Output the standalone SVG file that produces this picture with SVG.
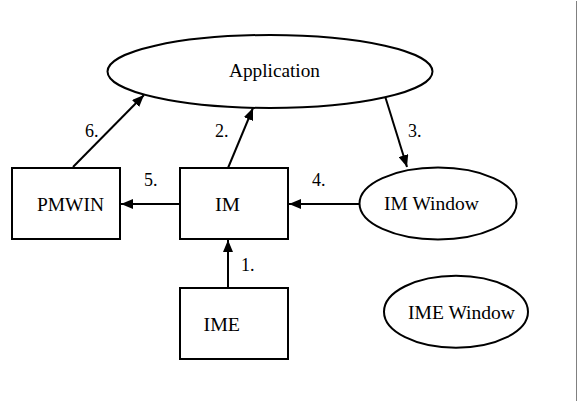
<svg xmlns="http://www.w3.org/2000/svg" width="577" height="401" viewBox="0 0 577 401">
<style>
.shape{fill:#fff;stroke:#000;stroke-width:2}
.lbl{font-family:'Liberation Serif','DejaVu Serif',Times,serif;font-size:18px;fill:#000}
.edge{stroke:#000;stroke-width:2;fill:none;marker-end:url(#ah)}
</style>
<defs>
<marker id="ah" markerUnits="userSpaceOnUse" markerWidth="12" markerHeight="10" viewBox="0 0 12 10" refX="12" refY="5" orient="auto">
<path d="M0,0 L12,5 L0,10 Z" fill="#000"/>
</marker>
</defs>
<rect width="577" height="401" fill="#fff"/>
<line x1="576.5" y1="1" x2="576.5" y2="401" stroke="#808080" stroke-width="1"/>
<g id="connectors">
<line class="edge" x1="228" y1="288" x2="228" y2="240"/>
<line class="edge" x1="228" y1="168" x2="253" y2="108"/>
<line class="edge" x1="385" y1="96" x2="407" y2="167"/>
<line class="edge" x1="359" y1="204" x2="289" y2="204"/>
<line class="edge" x1="180" y1="204" x2="121" y2="204"/>
<line class="edge" x1="73" y1="167" x2="144" y2="95"/>
<text class="lbl" x="241" y="271" font-family="Liberation Serif, serif">1.</text>
<text class="lbl" x="215" y="137" font-family="Liberation Serif, serif">2.</text>
<text class="lbl" x="408" y="137" font-family="Liberation Serif, serif">3.</text>
<text class="lbl" x="312" y="186" font-family="Liberation Serif, serif">4.</text>
<text class="lbl" x="144" y="186" font-family="Liberation Serif, serif">5.</text>
<text class="lbl" x="85" y="137" font-family="Liberation Serif, serif">6.</text>
</g>
<g id="application">
<ellipse class="shape" cx="270" cy="71.5" rx="162.5" ry="36.5"/>
<text class="lbl" x="229" y="77" textLength="91" lengthAdjust="spacingAndGlyphs">Application</text>
</g>
<g id="pmwin">
<rect class="shape" x="12" y="168" width="108" height="71"/>
<text class="lbl" x="37" y="211" textLength="67" lengthAdjust="spacingAndGlyphs">PMWIN</text>
</g>
<g id="im">
<rect class="shape" x="180" y="168" width="108" height="71"/>
<text class="lbl" x="215" y="211" textLength="25" lengthAdjust="spacingAndGlyphs">IM</text>
</g>
<g id="im-window">
<ellipse class="shape" cx="438" cy="203.5" rx="78.5" ry="36"/>
<text class="lbl" x="384" y="210" textLength="95" lengthAdjust="spacingAndGlyphs">IM Window</text>
</g>
<g id="ime">
<rect class="shape" x="180" y="288" width="108" height="71"/>
<text class="lbl" x="203.5" y="331" textLength="36.5" lengthAdjust="spacingAndGlyphs">IME</text>
</g>
<g id="ime-window">
<ellipse class="shape" cx="456" cy="311.7" rx="72" ry="36"/>
<text class="lbl" x="408" y="319" textLength="107" lengthAdjust="spacingAndGlyphs">IME Window</text>
</g>
</svg>
